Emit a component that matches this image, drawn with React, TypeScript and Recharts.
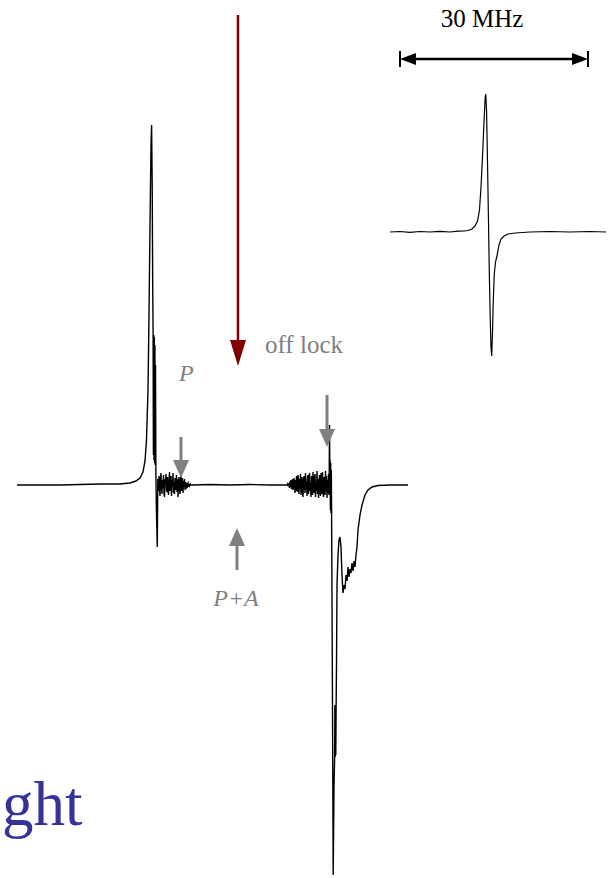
import { LineChart, Line, XAxis, YAxis } from 'recharts'

const W = 611
const H = 878

// main sweep: [x, signal], baseline = 0, positive up
const leadIn: [number, number][] = [
  [17, 0], [60, 0], [100, 1], [120, 1], [130, 2], [136, 4], [140, 7], [143, 13],
  [145, 24], [146.5, 45], [148, 95], [149, 170], [150, 260], [151, 340], [151.6, 360],
  [152.2, 300], [152.7, 200], [153.1, 153], [153.4, 30], [153.7, 150], [154, 25],
  [154.3, 148], [154.6, 22], [154.9, 140], [155.2, 20], [155.5, 120], [155.9, 10],
  [156.5, -30], [157.3, -62], [157.8, 6],
]

// probe-only region, sampled every 0.5 from x = 158
const noiseA = [
  3, -6, 9, -2, -11, 7, 12, -4, -9, 5, -3, 10, -8, -12, 6, 2, 11, -5, -7, 8,
  -2, -10, 4, 13, -6, -3, 9, -11, 5, -1, 12, -8, 3, -9, 7, -5, -2, 10, -7, 6,
  -12, 2, 8, -4, -9, 5, 11, -6, -3, 7, -8, 4, -2, 6, -5, 3, -4, 2, -3, 1,
  2, -2, 1, -1, 0, 1, 0, 0, 0,
]

const quiet: [number, number][] = [
  [192.5, 0], [210, 0.5], [230, 0], [250, 0.5], [270, 0], [286.5, 0],
]

// probe + anti-probe region, sampled every 0.5 from x = 287
const noiseB = [
  0, 1, -1, 2, 0, -3, 4, -2, 5, -4, 1, 6, -5, -2, 7, 3, -8, 5, -6, 9,
  -3, -7, 10, 2, -9, 6, -4, 11, -10, 3, 8, -6, -12, 5, 9, -2, -8, 12, -5, 4,
  -11, 7, 10, -9, -3, 12, -6, 2, -12, 9, 5, -10, 13, -4, -8, 7, 11, -12, 3, -6,
  14, -9, 6, -13, 2, 10, -7, -11, 12, 4, -9, 13, -5, -12, 8, 3, -10, 14, -6, 9,
  -13, 5, -8, 11, -10,
]

const tail: [number, number][] = [
  [329.2, 8], [329.5, 60], [329.8, 20], [330.1, 25], [330.4, -25], [330.7, 22],
  [331, -28], [331.3, 15], [331.6, -28], [332.4, -200], [333.2, -390], [334, -300],
  [334.6, -275], [334.9, -220], [335.2, -272], [335.5, -222], [335.8, -270],
  [336.1, -225], [336.5, -180], [337, -100], [338, -70], [339, -55], [340, -52],
  [341, -62], [342, -90], [343, -108], [344, -100], [345, -104], [346, -90],
  [347, -96], [348, -82], [349, -92], [350, -84], [351, -88], [352, -78],
  [353, -86], [354, -76], [355, -82], [356, -70], [357, -62], [358, -45],
  [360, -30], [362, -20], [365, -10], [368, -5], [372, -2], [378, -0.5],
  [390, 0], [408, 0],
]

// reference line shape
const refTrace: [number, number][] = [
  [390, 0], [400, 0.5], [410, -0.3], [420, 0.5], [430, 0], [440, 0.6], [450, 0],
  [458, 0.8], [464, 1], [468, 1.5], [472, 3], [475, 6], [477.5, 11], [479.5, 22],
  [481, 45], [482.5, 75], [484, 110], [485.2, 135], [485.8, 138], [486.6, 120],
  [487.5, 70], [488.5, 10], [489.3, -40], [490.2, -85], [491, -115], [491.7, -124],
  [492.5, -100], [493.3, -68], [494.3, -42], [495.5, -30], [497, -24], [499, -13],
  [501, -7], [504, -4], [508, -2], [515, -1], [530, 0], [550, 0.5], [570, 0],
  [590, 0.5], [606, 0],
]

const toPts = (arr: [number, number][]) => arr.map(([x, y]) => ({ x, y }))

const mainData = [
  ...toPts(leadIn),
  ...noiseA.map((y, i) => ({ x: 158 + i * 0.5, y })),
  ...toPts(quiet),
  ...noiseB.map((y, i) => ({ x: 287 + i * 0.5, y })),
  ...toPts(tail),
]
const refData = toPts(refTrace)

const serif = '"Liberation Serif", "Times New Roman", serif'
const GRAY = '#808080'

function DownArrow({ x, y1, y2, color, w = 3, head = 18, half = 8 }: any) {
  return (
    <g>
      <line x1={x} y1={y1} x2={x} y2={y2 - head + 2} stroke={color} strokeWidth={w} />
      <polygon points={`${x - half},${y2 - head} ${x + half},${y2 - head} ${x},${y2}`} fill={color} />
    </g>
  )
}

function UpArrow({ x, y1, y2, color, w = 3, head = 18, half = 8 }: any) {
  return (
    <g>
      <line x1={x} y1={y1} x2={x} y2={y2 + head - 2} stroke={color} strokeWidth={w} />
      <polygon points={`${x - half},${y2 + head} ${x + half},${y2 + head} ${x},${y2}`} fill={color} />
    </g>
  )
}

export default function App() {
  return (
    <div style={{ position: 'absolute', left: 0, top: 0, width: W, height: H, background: '#fff', overflow: 'hidden' }}>
      <LineChart width={W} height={H} margin={{ top: 0, right: 0, bottom: 0, left: 0 }}>
        <XAxis type="number" dataKey="x" domain={[0, W]} hide allowDataOverflow />
        <YAxis yAxisId="main" type="number" domain={[485 - H, 485]} hide allowDataOverflow />
        <YAxis yAxisId="ref" type="number" domain={[232 - H, 232]} hide allowDataOverflow />
        <Line
          yAxisId="main"
          data={mainData}
          dataKey="y"
          type="linear"
          stroke="#000"
          strokeWidth={1.4}
          dot={false}
          activeDot={false}
          isAnimationActive={false}
        />
        <Line
          yAxisId="ref"
          data={refData}
          dataKey="y"
          type="linear"
          stroke="#000"
          strokeWidth={1.2}
          dot={false}
          activeDot={false}
          isAnimationActive={false}
        />
      </LineChart>

      <svg width={W} height={H} style={{ position: 'absolute', left: 0, top: 0, pointerEvents: 'none' }}>
        {/* scale bar */}
        <text x={482} y={27} textAnchor="middle" fontFamily={serif} fontSize={25} fill="#000">30 MHz</text>
        <line x1={414} y1={59} x2={574} y2={59} stroke="#000" strokeWidth={2.5} />
        <polygon points="400,59 416,53 416,65" fill="#000" />
        <polygon points="588,59 572,53 572,65" fill="#000" />
        <line x1={400} y1={51} x2={400} y2={67} stroke="#000" strokeWidth={2} />
        <line x1={588} y1={51} x2={588} y2={67} stroke="#000" strokeWidth={2} />

        {/* lock point marker */}
        <DownArrow x={238} y1={15} y2={366} color="#800000" w={2.5} head={26} half={8} />

        <DownArrow x={181} y1={437} y2={478} color={GRAY} />
        <DownArrow x={327} y1={395} y2={447} color={GRAY} />
        <UpArrow x={237} y1={570} y2={528} color={GRAY} />

        <text x={265} y={353} fontFamily={serif} fontSize={25} fill={GRAY}>off lock</text>
        <text x={179} y={381} fontFamily={serif} fontSize={24} fontStyle="italic" fill={GRAY}>P</text>
        <text x={236} y={606} textAnchor="middle" fontFamily={serif} fontSize={24} fontStyle="italic" fill={GRAY}>P+A</text>
        <text x={2} y={825} fontFamily={serif} fontSize={63} fill="#333399">ght</text>
      </svg>
    </div>
  )
}
